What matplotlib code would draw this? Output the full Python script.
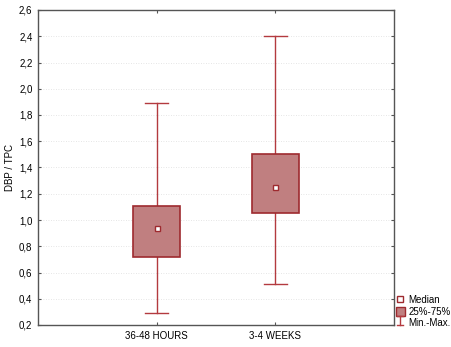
import matplotlib.pyplot as plt
from matplotlib.legend_handler import HandlerBase
from matplotlib.lines import Line2D
from matplotlib.patches import Patch
from matplotlib.ticker import FuncFormatter

plt.rcParams['font.family'] = ['Liberation Sans', 'DejaVu Sans']

groups = ['36-48 HOURS', '3-4 WEEKS']
medians = [0.94, 1.25]
q1 = [0.715, 1.05]
q3 = [1.105, 1.50]
mins = [0.295, 0.515]
maxs = [1.89, 2.40]

box_face = '#c07f80'
box_edge = '#9e2a2f'
whisk = '#b33a3f'


class WhiskerHandler(HandlerBase):
    # little I-beam for the min/max entry
    def create_artists(self, legend, orig, xd, yd, w, h, fontsize, trans):
        cx = xd + w / 2
        arts = [Line2D([cx, cx], [yd, yd + h], color=whisk, lw=1),
                Line2D([cx - w / 3, cx + w / 3], [yd, yd], color=whisk, lw=1),
                Line2D([cx - w / 3, cx + w / 3], [yd + h, yd + h], color=whisk, lw=1)]
        for a in arts:
            a.set_transform(trans)
        return arts


fig = plt.figure(figsize=(4.52, 3.47), dpi=100)
ax = fig.add_axes([38 / 452, 22 / 347, 356 / 452, 315 / 347])

pos = [1, 2]
w = 0.40
cap = 0.19
for i, p in enumerate(pos):
    ax.plot([p, p], [mins[i], q1[i]], color=whisk, lw=1, zorder=2)
    ax.plot([p, p], [q3[i], maxs[i]], color=whisk, lw=1, zorder=2)
    ax.plot([p - cap / 2, p + cap / 2], [mins[i], mins[i]], color=whisk, lw=1, zorder=2)
    ax.plot([p - cap / 2, p + cap / 2], [maxs[i], maxs[i]], color=whisk, lw=1, zorder=2)
    ax.bar(p, q3[i] - q1[i], bottom=q1[i], width=w, color=box_face,
           edgecolor=box_edge, linewidth=1.2, zorder=3)
    ax.plot(p, medians[i], marker='s', ms=3.6, mfc='white', mec=box_edge,
            mew=1, ls='none', zorder=4)

ax.set_xlim(0, 3)
ax.set_ylim(0.2, 2.6)
ax.set_xticks(pos)
ax.set_xticklabels(groups)
ax.set_yticks([0.2 + 0.2 * k for k in range(13)])
ax.yaxis.set_major_formatter(FuncFormatter(lambda v, _: f'{v:.1f}'.replace('.', ',')))
ax.tick_params(direction='in', length=2, labelsize=7, top=True, right=True,
               color='#555555', pad=4)
ax.set_ylabel('DBP / TPC', fontsize=7, labelpad=3)
ax.yaxis.grid(True, ls=(0, (1, 2)), color='#dddddd', lw=0.6)
ax.set_axisbelow(True)
for s in ax.spines.values():
    s.set_color('#555555')
    s.set_linewidth(1)

handles = [Line2D([], [], marker='s', ms=4, mfc='white', mec=box_edge, ls='none'),
           Patch(facecolor=box_face, edgecolor=box_edge),
           Line2D([], [])]
leg = fig.legend(handles, ['Median', '25%-75%', 'Min.-Max.'],
                 handler_map={handles[2]: WhiskerHandler()},
                 loc='lower left', bbox_to_anchor=(394 / 452, 17 / 347),
                 frameon=False, fontsize=7, handlelength=0.9, handleheight=1.0,
                 handletextpad=0.4, labelspacing=0.15, borderpad=0.2,
                 borderaxespad=0)

fig.savefig('out.png', dpi=100)
